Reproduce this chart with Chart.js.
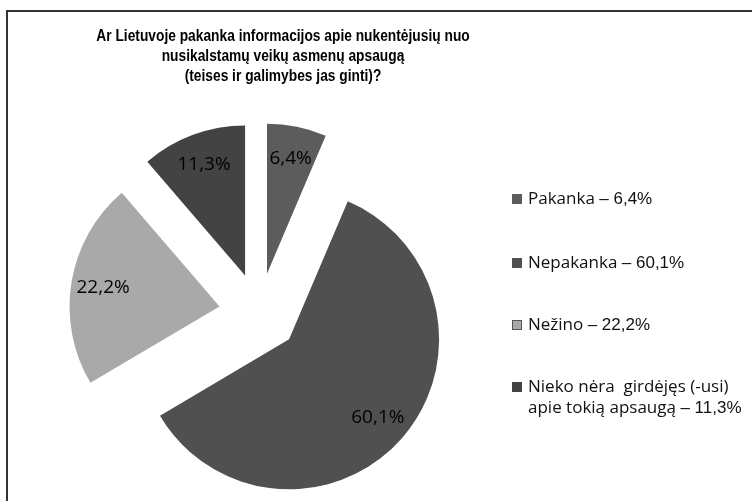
<!DOCTYPE html>
<html>
<head>
<meta charset="utf-8">
<script src="https://cdn.jsdelivr.net/npm/chart.js@4/dist/chart.umd.min.js"></script>
<style>
  html, body { margin: 0; padding: 0; background: #fff; }
  #wrap { position: relative; width: 752px; height: 501px; overflow: hidden; }
  #frame { position: absolute; left: 6px; top: 10px; width: 800px; height: 600px;
           border-top: 2px solid #333; border-left: 2px solid #333; }
  canvas { position: absolute; left: 0; top: 0; }
  #title { position: absolute; left: 0; top: 26px; width: 566px; text-align: center;
           font: bold 17px "Liberation Sans", Arial, sans-serif; line-height: 20px; color: #000;
           transform: scaleX(0.81); transform-origin: 283px 0; }
  .item { position: absolute; left: 512px; font: 17px "Open Sans", sans-serif; line-height: 21px;
          color: #111; white-space: pre; }
  .item .sw { position: absolute; left: 0; top: 7px; width: 10px; height: 10px; box-sizing: border-box; }
  .item .txt { margin-left: 16px; }
  .item .num { font-family: "Liberation Sans", Arial, sans-serif; }
</style>
</head>
<body>
<div id="wrap">
  <div id="frame"></div>
  <canvas id="chart" width="752" height="501"></canvas>
  <div id="title"></div>
  <div id="legend"></div>
</div>
<script>
// Data
const titleLines = [
  'Ar Lietuvoje pakanka informacijos apie nukentėjusių nuo',
  'nusikalstamų veikų asmenų apsaugą',
  '(teises ir galimybes jas ginti)?'
];
const categories = ['Pakanka', 'Nepakanka', 'Nežino', 'Nieko nėra  girdėjęs (-usi)\napie tokią apsaugą'];
const values = [6.4, 60.1, 22.2, 11.3];
const sliceColors = ['#5c5c5c', '#505050', '#a9a9a9', '#434343'];
const legendBorders = ['#5c5c5c', '#505050', '#555555', '#434343'];
const legendTops = [187, 251, 313, 375];

const EXPLODE = 40;   // px each slice is pulled out
const LABEL_R = 118;  // px from slice tip to label

const fmt = v => v.toFixed(1).replace('.', ',') + '%';

// title
document.getElementById('title').innerHTML = titleLines.join('<br>');

// legend
const legendEl = document.getElementById('legend');
categories.forEach((name, i) => {
  const item = document.createElement('div');
  item.className = 'item';
  item.style.top = legendTops[i] + 'px';
  const sw = document.createElement('span');
  sw.className = 'sw';
  sw.style.background = sliceColors[i];
  sw.style.border = '1px solid ' + legendBorders[i];
  const txt = document.createElement('div');
  txt.className = 'txt';
  txt.textContent = name + ' ';
  const num = document.createElement('span');
  num.className = 'num';
  num.textContent = '– ' + fmt(values[i]);
  txt.appendChild(num);
  item.appendChild(sw);
  item.appendChild(txt);
  legendEl.appendChild(item);
});

// pull slices out from the centre
const explodePlugin = {
  id: 'explode',
  beforeDatasetDraw(chart, args) {
    const ctx = chart.ctx;
    args.meta.data.forEach(arc => {
      const mid = (arc.startAngle + arc.endAngle) / 2;
      ctx.save();
      ctx.translate(Math.cos(mid) * EXPLODE, Math.sin(mid) * EXPLODE);
      arc.draw(ctx);
      ctx.restore();
    });
    return false;
  }
};

// percentage labels inside slices
const sliceLabels = {
  id: 'sliceLabels',
  afterDatasetsDraw(chart) {
    const ctx = chart.ctx;
    const meta = chart.getDatasetMeta(0);
    ctx.save();
    ctx.font = '19px "Open Sans", sans-serif';
    ctx.fillStyle = '#000';
    ctx.textAlign = 'center';
    ctx.textBaseline = 'middle';
    meta.data.forEach((arc, i) => {
      const mid = (arc.startAngle + arc.endAngle) / 2;
      const r = EXPLODE + LABEL_R;
      ctx.fillText(fmt(values[i]), arc.x + Math.cos(mid) * r, arc.y + Math.sin(mid) * r);
    });
    ctx.restore();
  }
};

const ctx = document.getElementById('chart').getContext('2d');
new Chart(ctx, {
  type: 'pie',
  data: {
    labels: categories,
    datasets: [{
      data: values,
      backgroundColor: sliceColors,
      borderWidth: 0,
      radius: 150
    }]
  },
  options: {
    responsive: false,
    animation: false,
    events: [],
    layout: {
      padding: { left: 0, right: 234, top: 125, bottom: 0 }
    },
    plugins: {
      legend: { display: false },
      title: { display: false },
      tooltip: { enabled: false }
    }
  },
  plugins: [explodePlugin, sliceLabels]
});
</script>
</body>
</html>
